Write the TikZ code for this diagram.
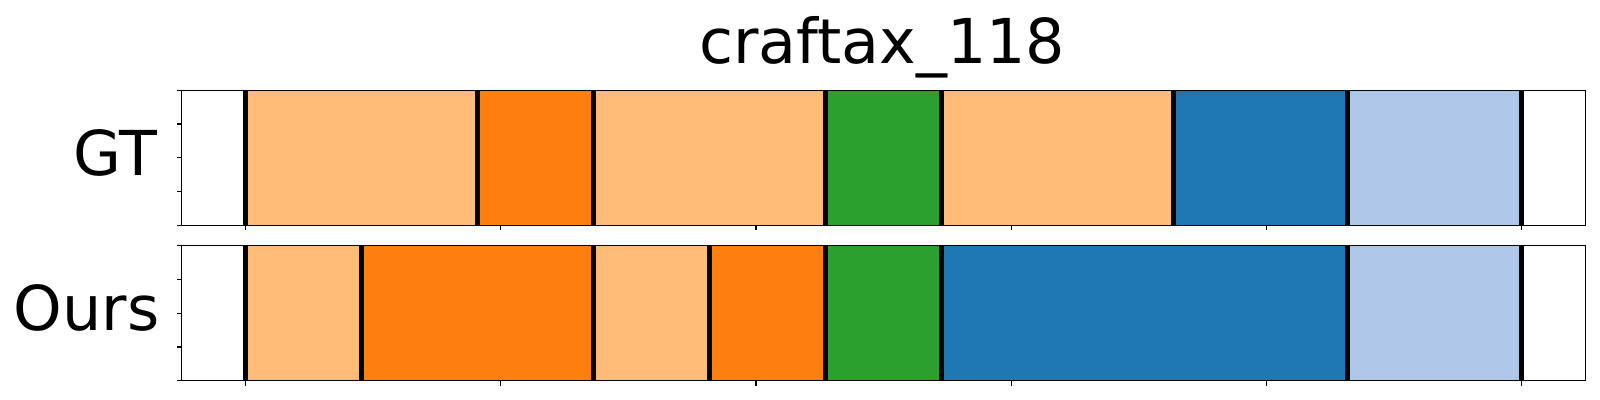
\documentclass[tikz,border=0pt]{standalone}
\usepackage{fontspec}
\setmainfont{DejaVu Sans}
\definecolor{lo}{HTML}{FFBB78}
\definecolor{or}{HTML}{FF7F0E}
\definecolor{gr}{HTML}{2CA02C}
\definecolor{bl}{HTML}{1F77B4}
\definecolor{lb}{HTML}{AEC7E8}
\tikzset{
  bline/.style={line width=1.3pt, black},
  frame/.style={line width=0.4pt, black},
  tickmark/.style={line width=0.35pt, black},
  lab/.style={inner sep=0pt, font=\fontsize{17.6pt}{20pt}\selectfont}
}
\begin{document}
\begin{tikzpicture}[x=0.01cm,y=-0.01cm]
\useasboundingbox (0,0) rectangle (1600,400);
% GT row
\foreach \a/\b/\c in {0/4/lo,4/6/or,6/10/lo,10/12/gr,12/16/lo,16/19/bl,19/22/lb}
  \fill[\c] ({245.3+58*\a},90.3) rectangle ({245.3+58*\b},225.3);
% Ours row
\foreach \a/\b/\c in {0/2/lo,2/6/or,6/8/lo,8/10/or,10/12/gr,12/19/bl,19/22/lb}
  \fill[\c] ({245.3+58*\a},245.7) rectangle ({245.3+58*\b},380.7);
% boundaries
\foreach \k in {0,4,6,10,12,16,19,22}
  \draw[bline] ({245.3+58*\k},90.3) -- ++(0,135);
\foreach \k in {0,2,6,8,10,12,19,22}
  \draw[bline] ({245.3+58*\k},245.7) -- ++(0,135);
% frames
\draw[frame] (181.7,90.3) rectangle (1585.7,225.3);
\draw[frame] (181.7,245.7) rectangle (1585.7,380.7);
% ticks
\foreach \t in {0,...,5} {
  \draw[tickmark] ({245.3+255.3*\t},225.3) -- ++(0,5);
  \draw[tickmark] ({245.3+255.3*\t},380.7) -- ++(0,5);
}
\foreach \i in {0,...,4} {
  \draw[tickmark] (181.7,{90.3+33.75*\i}) -- ++(-5,0);
  \draw[tickmark] (181.7,{245.7+33.75*\i}) -- ++(-5,0);
}
% labels
\node[lab, anchor=base] (title) at (882.2,63.3) {craftax\_118};
\node[lab, anchor=base east] (gt) at (158,175) {GT};
\node[lab, anchor=base east] (ours) at (160,330) {Ours};
\end{tikzpicture}
\end{document}
